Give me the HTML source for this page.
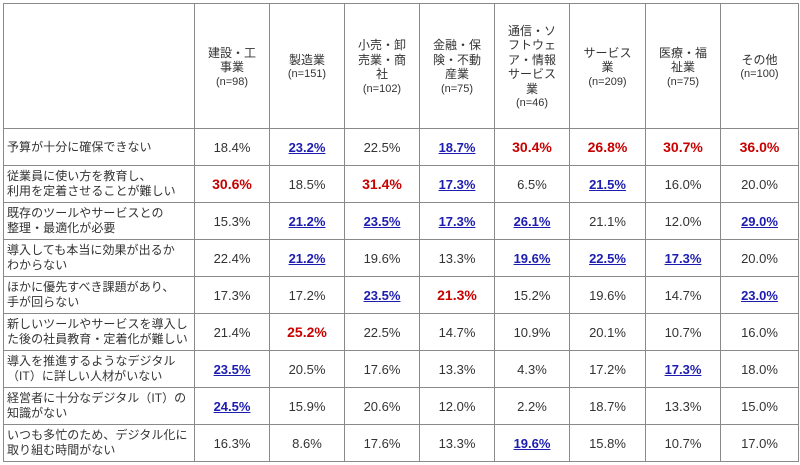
<!DOCTYPE html>
<html>
<head>
<meta charset="utf-8">
<style>
html,body{margin:0;padding:0;background:#fff;}
body{width:800px;height:465px;position:relative;overflow:hidden;font-family:"Liberation Sans","Noto Sans CJK JP",sans-serif;color:#333;}
.vl{position:absolute;left:3px;top:3px;width:1px;height:459px;background:#8a8a8a;}
.hl{position:absolute;left:3px;top:3px;width:796px;height:1px;background:#8a8a8a;}
.r{position:absolute;left:0;width:800px;}
.c{position:absolute;top:0;height:100%;box-sizing:border-box;border-right:1px solid #8a8a8a;border-bottom:1px solid #8a8a8a;display:flex;align-items:center;justify-content:center;text-align:center;font-size:13px;}
.c0{left:4px;width:191px;}
.c1{left:195px;width:75px;}
.c2{left:270px;width:75px;}
.c3{left:345px;width:75px;}
.c4{left:420px;width:75px;}
.c5{left:495px;width:75px;}
.c6{left:570px;width:76px;}
.c7{left:646px;width:75px;}
.c8{left:721px;width:78px;}
.h .c{font-size:12px;line-height:14.5px;font-family:"Liberation Sans","Noto Sans CJK JP",sans-serif;padding-top:2px;}
.h .c span{font-size:11px;line-height:14px;display:block;}
.lab{justify-content:flex-start !important;text-align:left !important;padding-left:3px;font-size:12px !important;line-height:15px;letter-spacing:0.05px;font-family:"Liberation Sans","Noto Sans CJK JP",sans-serif;}
.red{color:#c80000;font-weight:bold;font-size:14px;}
.blu{color:#1c1cb0;font-weight:bold;text-decoration:underline;font-size:13px;}
</style>
</head>
<body>
<div class="hl"></div>
<div class="vl"></div>

<div class="r h" style="top:4px;height:125px;">
<div class="c c0"></div>
<div class="c c1"><div>建設・工<br>事業<span>(n=98)</span></div></div>
<div class="c c2"><div>製造業<span>(n=151)</span></div></div>
<div class="c c3"><div>小売・卸<br>売業・商<br>社<span>(n=102)</span></div></div>
<div class="c c4"><div>金融・保<br>険・不動<br>産業<span>(n=75)</span></div></div>
<div class="c c5"><div>通信・ソ<br>フトウェ<br>ア・情報<br>サービス<br>業<span>(n=46)</span></div></div>
<div class="c c6"><div>サービス<br>業<span>(n=209)</span></div></div>
<div class="c c7"><div>医療・福<br>祉業<span>(n=75)</span></div></div>
<div class="c c8"><div>その他<span>(n=100)</span></div></div>
</div>

<div class="r" style="top:129px;height:37px;">
<div class="c c0 lab">予算が十分に確保できない</div>
<div class="c c1">18.4%</div>
<div class="c c2 blu">23.2%</div>
<div class="c c3">22.5%</div>
<div class="c c4 blu">18.7%</div>
<div class="c c5 red">30.4%</div>
<div class="c c6 red">26.8%</div>
<div class="c c7 red">30.7%</div>
<div class="c c8 red">36.0%</div>
</div>

<div class="r" style="top:166px;height:37px;">
<div class="c c0 lab">従業員に使い方を教育し、<br>利用を定着させることが難しい</div>
<div class="c c1 red">30.6%</div>
<div class="c c2">18.5%</div>
<div class="c c3 red">31.4%</div>
<div class="c c4 blu">17.3%</div>
<div class="c c5">6.5%</div>
<div class="c c6 blu">21.5%</div>
<div class="c c7">16.0%</div>
<div class="c c8">20.0%</div>
</div>

<div class="r" style="top:203px;height:37px;">
<div class="c c0 lab">既存のツールやサービスとの<br>整理・最適化が必要</div>
<div class="c c1">15.3%</div>
<div class="c c2 blu">21.2%</div>
<div class="c c3 blu">23.5%</div>
<div class="c c4 blu">17.3%</div>
<div class="c c5 blu">26.1%</div>
<div class="c c6">21.1%</div>
<div class="c c7">12.0%</div>
<div class="c c8 blu">29.0%</div>
</div>

<div class="r" style="top:240px;height:37px;">
<div class="c c0 lab">導入しても本当に効果が出るか<br>わからない</div>
<div class="c c1">22.4%</div>
<div class="c c2 blu">21.2%</div>
<div class="c c3">19.6%</div>
<div class="c c4">13.3%</div>
<div class="c c5 blu">19.6%</div>
<div class="c c6 blu">22.5%</div>
<div class="c c7 blu">17.3%</div>
<div class="c c8">20.0%</div>
</div>

<div class="r" style="top:277px;height:37px;">
<div class="c c0 lab">ほかに優先すべき課題があり、<br>手が回らない</div>
<div class="c c1">17.3%</div>
<div class="c c2">17.2%</div>
<div class="c c3 blu">23.5%</div>
<div class="c c4 red">21.3%</div>
<div class="c c5">15.2%</div>
<div class="c c6">19.6%</div>
<div class="c c7">14.7%</div>
<div class="c c8 blu">23.0%</div>
</div>

<div class="r" style="top:314px;height:37px;">
<div class="c c0 lab">新しいツールやサービスを導入し<br>た後の社員教育・定着化が難しい</div>
<div class="c c1">21.4%</div>
<div class="c c2 red">25.2%</div>
<div class="c c3">22.5%</div>
<div class="c c4">14.7%</div>
<div class="c c5">10.9%</div>
<div class="c c6">20.1%</div>
<div class="c c7">10.7%</div>
<div class="c c8">16.0%</div>
</div>

<div class="r" style="top:351px;height:37px;">
<div class="c c0 lab">導入を推進するようなデジタル<br>（IT）に詳しい人材がいない</div>
<div class="c c1 blu">23.5%</div>
<div class="c c2">20.5%</div>
<div class="c c3">17.6%</div>
<div class="c c4">13.3%</div>
<div class="c c5">4.3%</div>
<div class="c c6">17.2%</div>
<div class="c c7 blu">17.3%</div>
<div class="c c8">18.0%</div>
</div>

<div class="r" style="top:388px;height:37px;">
<div class="c c0 lab">経営者に十分なデジタル（IT）の<br>知識がない</div>
<div class="c c1 blu">24.5%</div>
<div class="c c2">15.9%</div>
<div class="c c3">20.6%</div>
<div class="c c4">12.0%</div>
<div class="c c5">2.2%</div>
<div class="c c6">18.7%</div>
<div class="c c7">13.3%</div>
<div class="c c8">15.0%</div>
</div>

<div class="r" style="top:425px;height:37px;">
<div class="c c0 lab">いつも多忙のため、デジタル化に<br>取り組む時間がない</div>
<div class="c c1">16.3%</div>
<div class="c c2">8.6%</div>
<div class="c c3">17.6%</div>
<div class="c c4">13.3%</div>
<div class="c c5 blu">19.6%</div>
<div class="c c6">15.8%</div>
<div class="c c7">10.7%</div>
<div class="c c8">17.0%</div>
</div>

</body>
</html>
